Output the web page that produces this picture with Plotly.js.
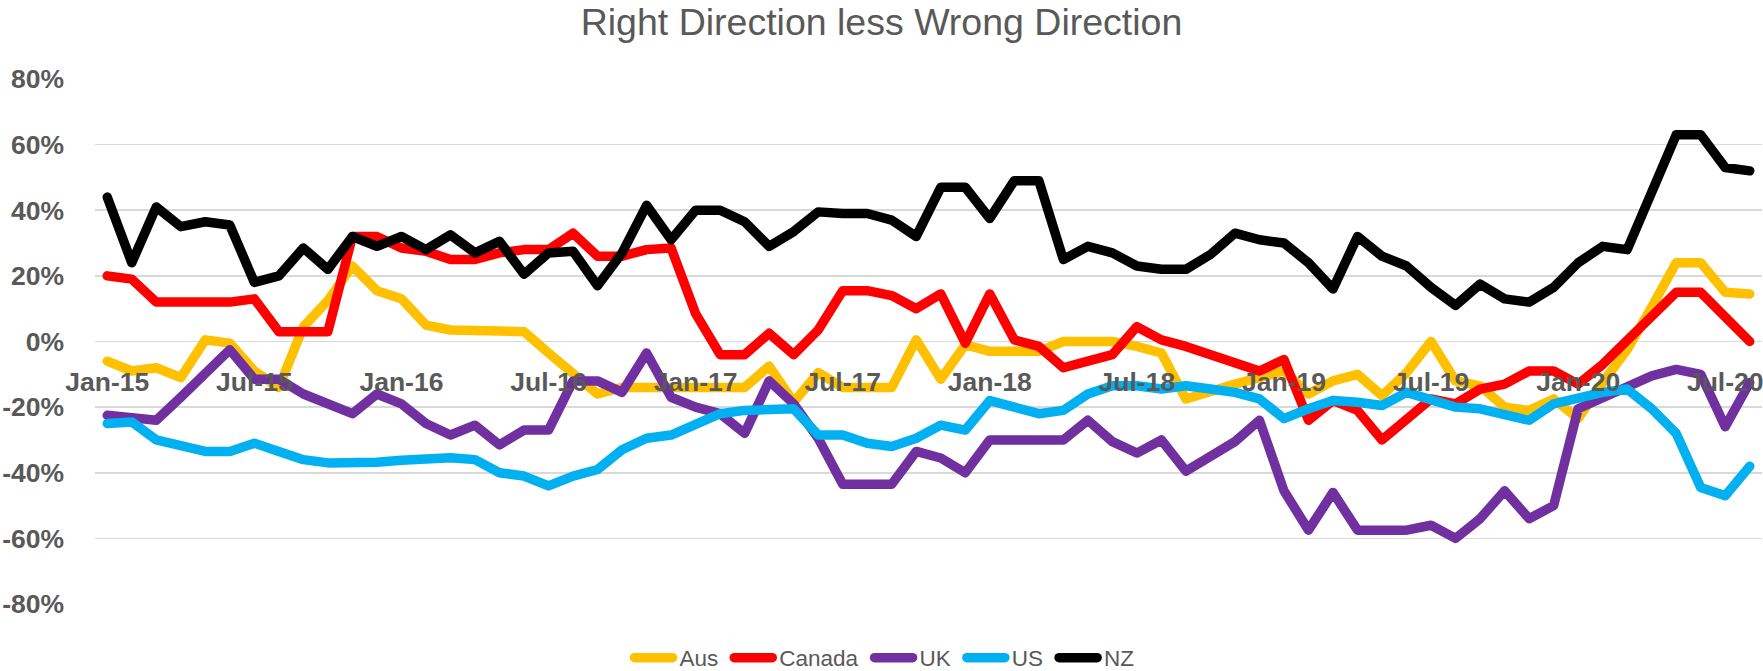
<!DOCTYPE html>
<html>
<head>
<meta charset="utf-8">
<script src="https://cdn.plot.ly/plotly-3.0.1.min.js"></script>
<style>
  html, body { margin: 0; padding: 0; background: #ffffff; }
  #chart { width: 1763px; height: 671px; }
  .scatterlayer .js-line, .legendlines path { stroke-linejoin: round; stroke-linecap: round; }
</style>
</head>
<body>
<div id="chart"></div>
<script>
const months = [
  "Jan-15","Feb-15","Mar-15","Apr-15","May-15","Jun-15","Jul-15","Aug-15","Sep-15","Oct-15","Nov-15","Dec-15",
  "Jan-16","Feb-16","Mar-16","Apr-16","May-16","Jun-16","Jul-16","Aug-16","Sep-16","Oct-16","Nov-16","Dec-16",
  "Jan-17","Feb-17","Mar-17","Apr-17","May-17","Jun-17","Jul-17","Aug-17","Sep-17","Oct-17","Nov-17","Dec-17",
  "Jan-18","Feb-18","Mar-18","Apr-18","May-18","Jun-18","Jul-18","Aug-18","Sep-18","Oct-18","Nov-18","Dec-18",
  "Jan-19","Feb-19","Mar-19","Apr-19","May-19","Jun-19","Jul-19","Aug-19","Sep-19","Oct-19","Nov-19","Dec-19",
  "Jan-20","Feb-20","Mar-20","Apr-20","May-20","Jun-20","Jul-20","Aug-20"
];

const tickLabels = ["Jan-15","Jul-15","Jan-16","Jul-16","Jan-17","Jul-17","Jan-18","Jul-18","Jan-19","Jul-19","Jan-20","Jul-20"];
const yTicks = [-80, -60, -40, -20, 0, 20, 40, 60, 80];

const aus = [-6, -9, -8, -11, 0.5, -0.5, -9, -14, 4.5, 12.5, 23, 15.5,
  13, 5, 3.5, 3.5, 3, 3, -3.5, -9.5, -16, -14, -14,
  -14, -14, -14, -14, -7.5, -18.5, -9.5, -14, -14, -14, 0.5,
  -11.5, -1, -3, -3, -3, 0, 0, 0, -1.5, -3.5, -17.5,
  -15, -13, -11, -9, -16, -12, -10, -16.5, -9.5, 0, -12,
  -13.5, -20, -21, -17.5, -23.5, -12.5, -2.5, 10.5, 24, 24, 15, 14.5];

const canada = [20, 19, 12, 12, 12, 12, 13, 3, 3, 3, 32, 32,
  28.5, 27.5, 25, 25, 27, 28, 28, 33, 26, 26, 28,
  28.5, 8.5, -4, -4, 2.5, -4, 3.5, 15.5, 15.5, 14, 10,
  14.5, -0.5, 14.5, 0.5, -1.5, -8, -6, -4, 4.5, 0.5, -1.5,
  -4, -7, -9, -5.5, -24, -18, -21, -30, -24, -17.5, -19,
  -14.5, -13, -9, -9, -13, -7, 0.5, 8.5, 15, 15, 7, 0];

const uk = [-22.5, -23.5, -24, -17, -10, -2.5, -11.5, -11.5, -16, -19, -22, -16,
  -19, -25, -28.5, -25.5, -31.5, -27, -27, -12, -12, -15.5, -3.5,
  -17, -20, -22, -28, -12, -19, -29.5, -43.5, -43.5, -43.5, -33.5,
  -35.5, -40, -30, -30, -30, -30, -24, -30.5, -34, -30, -39.5,
  -35, -30.5, -24, -45.5, -57.5, -46, -57.5, -57.5, -57.5, -56, -60,
  -54, -45.5, -54, -50, -20.5, -17, -14, -10.5, -8.5, -10, -26, -12.5];

const us = [-25, -24.5, -30, -32, -33.5, -33.5, -31, -33.5, -36, -37, -37, -36.8,
  -36.2, -35.7, -35.4, -36, -40, -41, -44, -41, -39, -33, -29.5,
  -28.5, -25, -22, -21, -20.5, -20.5, -28.5, -28.5, -31, -32, -29.5,
  -25.5, -27, -18, -20, -22, -21, -16, -13.5, -13.5, -14.5, -13.5,
  -14.5, -15.5, -17.5, -23.5, -20.5, -18, -18.5, -19.5, -15.5, -18, -20,
  -20.5, -22.5, -24, -19, -17, -15.5, -14.5, -20.5, -28, -44.5, -47, -38];

const nz = [44, 24, 41, 35, 36.5, 35.5, 18, 20, 28.5, 22, 32, 29,
  32, 28, 32.5, 27, 30.5, 20.5, 27, 27.5, 17, 27, 41.5,
  31, 40, 40, 36.5, 29, 33.5, 39.5, 39, 39, 37, 32,
  47, 47, 37.5, 49, 49, 25, 29, 27, 23, 22, 22,
  26.5, 33, 31, 30, 24, 16, 32, 26, 23, 16.5, 11,
  17.5, 13, 12, 16.5, 24, 29, 28, 45.5, 63, 63, 53, 52];

const seriesNames = ["Aus", "Canada", "UK", "US", "NZ"];
const seriesData = [aus, canada, uk, us, nz];
const seriesColors = ["#FFC000", "#FF0000", "#7030A0", "#00B0F0", "#000000"];

const traces = seriesNames.map((name, k) => ({
  type: "scatter",
  mode: "lines",
  name: name,
  x: months,
  y: seriesData[k],
  line: { color: seriesColors[k], width: 9.5 },
  hoverinfo: "x+y+name"
}));

const layout = {
  width: 1763,
  height: 671,
  paper_bgcolor: "#ffffff",
  plot_bgcolor: "#ffffff",
  margin: { l: 95, r: 1, t: 78, b: 66, pad: 0 },
  title: {
    text: "Right Direction less Wrong Direction",
    font: { family: "Liberation Sans, Arial, sans-serif", size: 37.5, color: "#595959" },
    x: 0.5, xref: "container", xanchor: "center",
    y: 1 - 22 / 671, yref: "container", yanchor: "middle"
  },
  showlegend: true,
  legend: {
    orientation: "h",
    x: 0.5, xref: "container", xanchor: "center",
    y: 1 - 658 / 671, yref: "container", yanchor: "middle",
    font: { family: "Liberation Sans, Arial, sans-serif", size: 22.5, color: "#595959" },
    itemwidth: 46,
    tracegroupgap: 0
  },
  xaxis: {
    type: "category",
    categoryorder: "array",
    categoryarray: months,
    range: [-0.5, months.length - 0.5],
    anchor: "free",
    position: 0.5,
    showgrid: false,
    zeroline: false,
    showline: false,
    ticks: "",
    tickmode: "array",
    tickvals: tickLabels,
    ticktext: tickLabels,
    tickangle: 0,
    ticklabelstandoff: 22,
    tickfont: { family: "Liberation Sans, Arial, sans-serif", size: 26.5, color: "#595959", weight: "bold" },
    fixedrange: true
  },
  yaxis: {
    range: [-80.3, 80.3],
    tickmode: "array",
    tickvals: yTicks,
    ticktext: yTicks.map(v => v + "%"),
    showgrid: true,
    gridcolor: "#D9D9D9",
    gridwidth: 1.5,
    zeroline: false,
    showline: false,
    ticks: "",
    ticklabelstandoff: 30,
    tickfont: { family: "Liberation Sans, Arial, sans-serif", size: 26.5, color: "#595959", weight: "bold" },
    fixedrange: true
  }
};

Plotly.newPlot("chart", traces, layout, { displayModeBar: false, staticPlot: true }).then(gd => {
  // lengthen the legend line swatches so they sit right before the text, as in the reference
  gd.querySelectorAll(".legendlines path").forEach(p => p.setAttribute("d", "M11,0h38"));
});
</script>
</body>
</html>
